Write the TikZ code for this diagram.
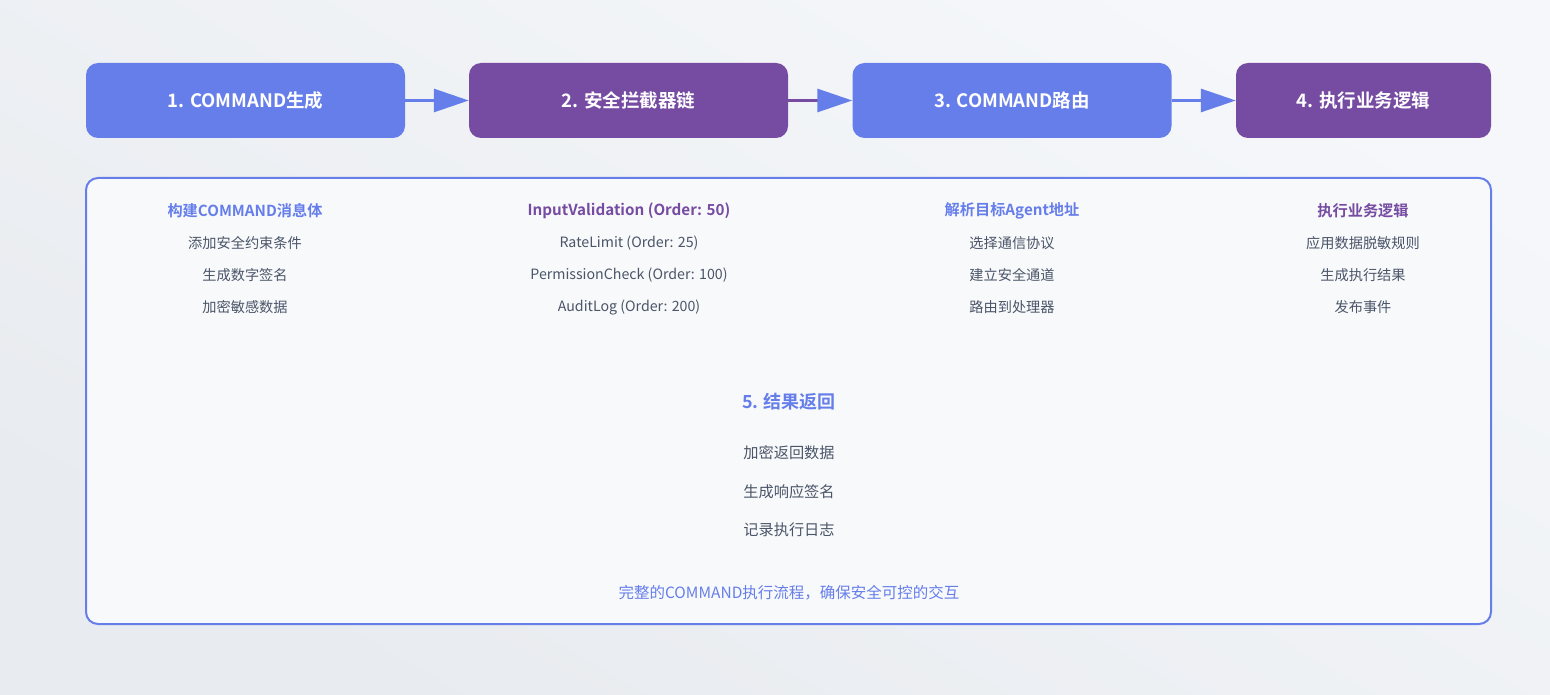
\documentclass[tikz,border=0pt]{standalone}
\usepackage{fontspec}
\setmainfont{Noto Sans CJK SC}[BoldFont={Noto Sans CJK SC Bold}]
\usetikzlibrary{arrows.meta,positioning}
\definecolor{bgtop}{HTML}{F5F7FA}
\definecolor{bgbot}{HTML}{E8EBEF}
\definecolor{cmdblue}{HTML}{667EEA}
\definecolor{cmdpurple}{HTML}{764BA2}
\definecolor{panelbg}{HTML}{F8F9FB}
\definecolor{itemgray}{HTML}{4A5568}

\tikzset{
  stage/.style={rounded corners=12pt, minimum width=319pt, minimum height=75pt,
    text=white, font=\bfseries\fontsize{18.5}{20}\selectfont, inner sep=0pt},
  colhead/.style={font=\bfseries\fontsize{15.2}{17}\selectfont},
  item/.style={text=itemgray, font=\fontsize{14.2}{16}\selectfont},
  flow/.style={line width=3pt, -{Triangle[length=35pt,width=23pt,color=cmdblue]}}
}

\begin{document}
\begin{tikzpicture}[x=1pt,y=-1pt, line join=round]
  % page background
  \shade[top color=bgtop, bottom color=bgbot, shading angle=-30] (0,0) rectangle (1550,695);
  \useasboundingbox (0,0) rectangle (1550,695);
  % the four stages
  \node[stage, fill=cmdblue] (gen) at (245.5,100.5) {1. COMMAND生成};
  \node[stage, fill=cmdpurple] (chain) at (628.5,100.5) {2. 安全拦截器链};
  \node[stage, fill=cmdblue] (route) at (1012,100.5) {3. COMMAND路由};
  \node[stage, fill=cmdpurple, minimum width=255pt] (exec) at (1363.5,100.5) {4. 执行业务逻辑};
  \draw[flow, cmdblue] (gen) -- (chain);
  \draw[flow, cmdpurple] (chain) -- (route);
  \draw[flow, cmdblue] (route) -- (exec);
  % detail panel
  \draw[cmdblue, line width=2pt, fill=panelbg, rounded corners=12pt] (86,178) rectangle (1491,624);
  % column 1
  \node[colhead, text=cmdblue] (h1) at (245,211) {构建COMMAND消息体};
  \node[item] (h1a) at (245,243) {添加安全约束条件};
  \node[item] (h1b) at (245,275) {生成数字签名};
  \node[item] (h1c) at (245,307) {加密敏感数据};
  % column 2
  \node[colhead, text=cmdpurple] (h2) at (629,211) {InputValidation (Order: 50)};
  \node[item] (h2a) at (629,243) {RateLimit (Order: 25)};
  \node[item] (h2b) at (629,275) {PermissionCheck (Order: 100)};
  \node[item] (h2c) at (629,307) {AuditLog (Order: 200)};
  % column 3
  \node[colhead, text=cmdblue] (h3) at (1012,211) {解析目标Agent地址};
  \node[item] (h3a) at (1012,243) {选择通信协议};
  \node[item] (h3b) at (1012,275) {建立安全通道};
  \node[item] (h3c) at (1012,307) {路由到处理器};
  % column 4
  \node[colhead, text=cmdpurple] (h4) at (1363,211) {执行业务逻辑};
  \node[item] (h4a) at (1363,243) {应用数据脱敏规则};
  \node[item] (h4b) at (1363,275) {生成执行结果};
  \node[item] (h4c) at (1363,307) {发布事件};
  % result
  \node[text=cmdblue, font=\bfseries\fontsize{18}{20}\selectfont] (ret) at (789,402) {5. 结果返回};
  \node[item, font=\fontsize{15.2}{17}\selectfont] (reta) at (789,453) {加密返回数据};
  \node[item, font=\fontsize{15.2}{17}\selectfont] (retb) at (789,492) {生成响应签名};
  \node[item, font=\fontsize{15.2}{17}\selectfont] (retc) at (789,530) {记录执行日志};
  \node[text=cmdblue, font=\fontsize{15.5}{17}\selectfont] (note) at (789,593) {完整的COMMAND执行流程，确保安全可控的交互};
\end{tikzpicture}
\end{document}
